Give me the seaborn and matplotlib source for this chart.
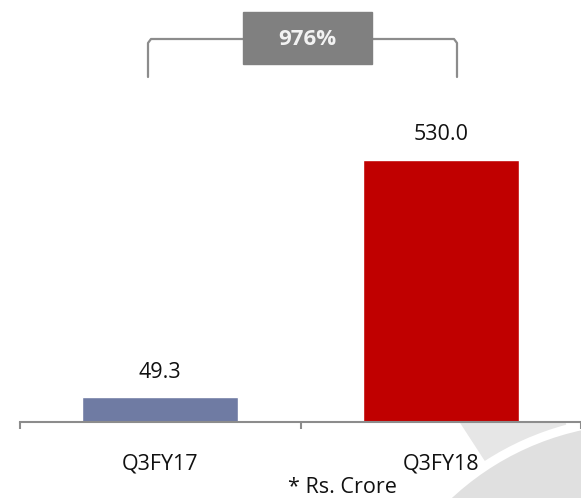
import pandas as pd
import matplotlib.pyplot as plt
import seaborn as sns
from matplotlib.patches import Wedge, Rectangle

sns.set_style("white")
plt.rcParams['font.family'] = ['Open Sans', 'DejaVu Sans']

# data
categorias = ['Q3FY17', 'Q3FY18']
valores = [49.3, 530.0]
rotulos = ['49.3', '530.0']
crescimento = '976%'
cores = ['#6F7BA3', '#C00000']

df = pd.DataFrame({'periodo': categorias, 'valor': valores})

fig = plt.figure(figsize=(5.81, 4.98), dpi=100)

# background layer in pixel coords (y up) for the faint watermark
bg = fig.add_axes([0, 0, 1, 1], zorder=-5)
bg.set_xlim(0, 581)
bg.set_ylim(0, 498)
bg.axis('off')
clip = Rectangle((0, 0), 581, 76, transform=bg.transData)
w1 = Wedge((640, -202), 400, 105, 123, width=115, color='#e6e6e6', lw=0)
w2 = Wedge((640, -202), 276, 55, 134, width=276, color='#e0e0e0', lw=0)
for w in (w1, w2):
    bg.add_patch(w)
    w.set_clip_path(clip)

# main chart
ax = fig.add_axes([20 / 581, 76.5 / 498, 561 / 581, 341.5 / 498])
ax.patch.set_alpha(0)
sns.barplot(data=df, x='periodo', y='valor', hue='periodo', palette=cores,
            width=0.555, legend=False, ax=ax, saturation=1)
ax.set_xlim(-0.5, 1.5)
ax.set_ylim(0, 692)

for p, txt in zip(ax.patches, rotulos):
    ax.annotate(txt, (p.get_x() + p.get_width() / 2, p.get_height()),
                xytext=(0, 18), textcoords='offset points',
                ha='center', va='center', fontsize=15.5, color='#111111')

for s in ['top', 'right', 'left']:
    ax.spines[s].set_visible(False)
ax.spines['bottom'].set_color('#8c8c8c')
ax.spines['bottom'].set_linewidth(1.5)
ax.set_yticks([])
ax.set_xticks([-0.5, 0.5, 1.5])
ax.set_xticklabels([])
ax.tick_params(axis='x', which='major', direction='out', length=5,
               width=1.5, color='#8c8c8c', bottom=True)
ax.set_xticks([0, 1], minor=True)
ax.set_xticklabels(categorias, minor=True, fontsize=15.5, color='#111111')
ax.tick_params(axis='x', which='minor', length=0, pad=23)
ax.set_xlabel('')
ax.set_ylabel('')

fig.text(342 / 581, 1 - 487 / 498, '* Rs. Crore', ha='center', va='center',
         fontsize=15.5, color='#111111')

# growth bracket with label box
bg.plot([148, 148, 151, 454, 457, 457],
        [498 - 77, 498 - 43, 498 - 39, 498 - 39, 498 - 43, 498 - 77],
        color='#8c8c8c', lw=1.6, solid_joinstyle='round')
bg.add_patch(Rectangle((243, 498 - 64), 129, 52, color='#808080', zorder=3))
bg.text(307.5, 498 - 39, crescimento, ha='center', va='center',
        fontsize=16, fontweight='bold', color='#f2f2f2', zorder=4)

plt.savefig('out.png', dpi=100)
